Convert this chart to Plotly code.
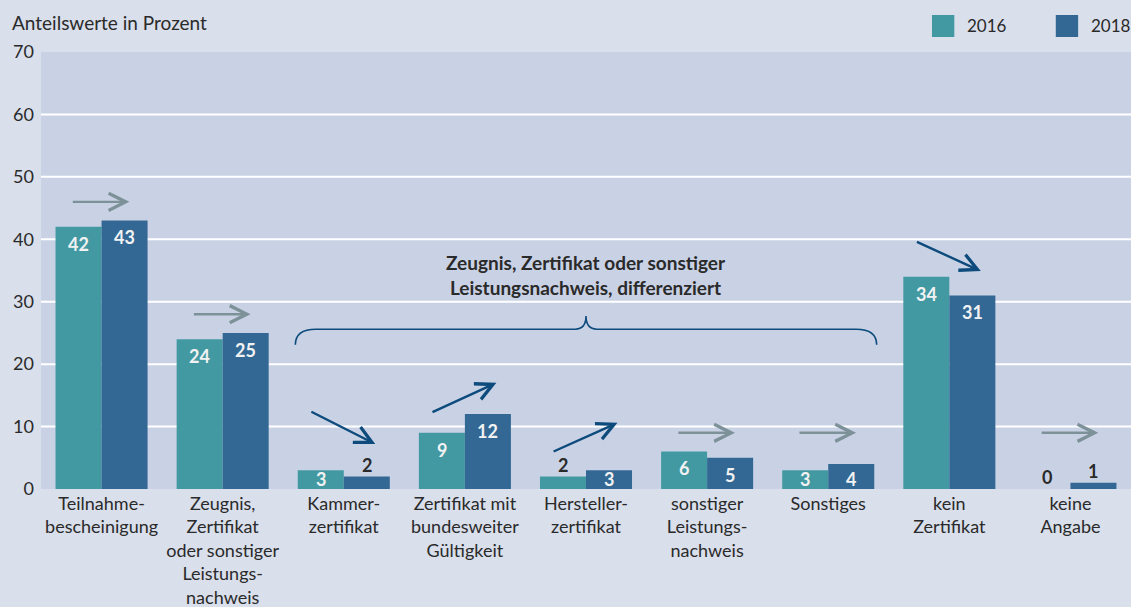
import plotly.graph_objects as go

categories = ["Teilnahme-<br>bescheinigung",
              "Zeugnis,<br>Zertifikat<br>oder sonstiger<br>Leistungs-<br>nachweis",
              "Kammer-<br>zertifikat",
              "Zertifikat mit<br>bundesweiter<br>Gültigkeit",
              "Hersteller-<br>zertifikat",
              "sonstiger<br>Leistungs-<br>nachweis",
              "Sonstiges",
              "kein<br>Zertifikat",
              "keine<br>Angabe"]
values_2016 = [42, 24, 3, 9, 2, 6, 3, 34, 0]
values_2018 = [43, 25, 2, 12, 3, 5, 4, 31, 1]
# trend arrows: start / end levels, None -> horizontal "unchanged"
arrow_y_start = [None, None, 12.5, 12.2, 5.9, None, None, 39.7, None]
arrow_y_end = [None, None, 7.2, 17.0, 10.6, None, None, 34.9, None]
y_ticks = [0, 10, 20, 30, 40, 50, 60, 70]
legend_years = ["2016", "2018"]

C16 = "#4399a2"
C18 = "#336895"
PAPER = "#d9dfeb"
PLOT = "#c9d2e5"
TXT = "#2a2a2a"
FONT = "Lato"

x_idx = list(range(len(categories)))
fig = go.Figure()
fig.add_trace(go.Bar(x=x_idx, y=values_2016, name="2016", marker_color=C16,
                     marker_line_width=0, showlegend=False))
fig.add_trace(go.Bar(x=x_idx, y=values_2018, name="2018", marker_color=C18,
                     marker_line_width=0, showlegend=False))

ann = []
off = 0.19
for i in x_idx:
    for v, dx in ((values_2016[i], -off), (values_2018[i], off)):
        if v < 3:
            ann.append(dict(x=i + dx, y=v, text=f"<b>{v}</b>", showarrow=False,
                            yanchor="middle", yshift=12,
                            font=dict(family=FONT, size=18, color=TXT)))
        else:
            ann.append(dict(x=i + dx, y=max(v - 2.7, 1.6), text=f"<b>{v}</b>", showarrow=False,
                            yanchor="middle",
                            font=dict(family=FONT, size=18, color="#f2f2f2")))
    # trend arrows
    if arrow_y_start[i] is None:
        y = max(max(values_2016[i], values_2018[i]) + 3, 9)
        ann.append(dict(x=i + 0.23, y=y, ax=i - 0.25, ay=y, axref="x", ayref="y",
                        xref="x", yref="y", text="", showarrow=True,
                        arrowhead=5, arrowsize=1.4, arrowwidth=2.4, arrowcolor="#7d9199",
                        standoff=0, startstandoff=0))
    else:
        ann.append(dict(x=i + 0.26, y=arrow_y_end[i], ax=i - 0.28, ay=arrow_y_start[i],
                        axref="x", ayref="y", xref="x", yref="y", text="", showarrow=True,
                        arrowhead=5, arrowsize=1.4, arrowwidth=2.4, arrowcolor="#0d4b7d",
                        standoff=0, startstandoff=0))

# brace title
ann.append(dict(x=4, y=34.3, text="<b>Zeugnis, Zertifikat oder sonstiger<br>Leistungsnachweis, differenziert</b>",
                showarrow=False, font=dict(family=FONT, size=19, color=TXT)))
# axis title
ann.append(dict(xref="paper", yref="paper", x=-0.0284, y=1.0686, xanchor="left", yanchor="middle",
                text="Anteilswerte in Prozent", showarrow=False,
                font=dict(family=FONT, size=19, color=TXT)))

shapes = []
for g in y_ticks[1:-1]:
    shapes.append(dict(type="line", xref="paper", yref="y", x0=0, x1=1, y0=g, y1=g,
                       line=dict(color="white", width=2), layer="below"))
# brace
x0, x1, xc = 1.6, 6.4, 4.0
ye, yf, yc = 23.1, 25.6, 27.7
r = 0.17
rc = 0.09
path = (f"M {x0},{ye} Q {x0},{yf} {x0 + r},{yf} L {xc - rc},{yf} Q {xc},{yf} {xc},{yc} "
        f"Q {xc},{yf} {xc + rc},{yf} L {x1 - r},{yf} Q {x1},{yf} {x1},{ye}")
shapes.append(dict(type="path", path=path, xref="x", yref="y",
                   line=dict(color="#0d4b7d", width=1.6)))

# legend (manual)
leg_x = [0.8174, 0.931]
for k, (yr, col) in enumerate(zip(legend_years, [C16, C18])):
    shapes.append(dict(type="rect", xref="paper", yref="paper", x0=leg_x[k], x1=leg_x[k] + 0.0205,
                       y0=1.0343, y1=1.0847, fillcolor=col, line_width=0))
    ann.append(dict(xref="paper", yref="paper", x=leg_x[k] + 0.0303, y=1.0595, xanchor="left",
                    yanchor="middle", text=yr, showarrow=False,
                    font=dict(family=FONT, size=17, color=TXT)))

fig.update_layout(
    width=1131, height=607,
    margin=dict(l=41, r=0, t=52, b=118),
    paper_bgcolor=PAPER, plot_bgcolor=PLOT,
    barmode="group", bargap=0.24, bargroupgap=0,
    annotations=ann, shapes=shapes,
    font=dict(family=FONT, size=17, color=TXT),
)
fig.update_xaxes(range=[-0.5, 8.5], tickvals=x_idx, ticktext=categories, showgrid=False,
                 zeroline=False, ticks="", showline=False, tickangle=0, automargin=False,
                 ticklabelstandoff=2,
                 tickfont=dict(family=FONT, size=18, color=TXT))
fig.update_yaxes(range=[0, 70], tickvals=y_ticks, showgrid=False, zeroline=False, ticks="",
                 showline=False, ticklabelstandoff=6, automargin=False,
                 tickfont=dict(family=FONT, size=18, color=TXT))

fig.write_html("out.html", config={"displayModeBar": False})
with open("out.html", encoding="utf-8") as f:
    html = f.read()
html = html.replace("<head>", "<head><style>html,body{margin:0;padding:0;overflow:hidden;}</style>", 1)
with open("out.html", "w", encoding="utf-8") as f:
    f.write(html)
